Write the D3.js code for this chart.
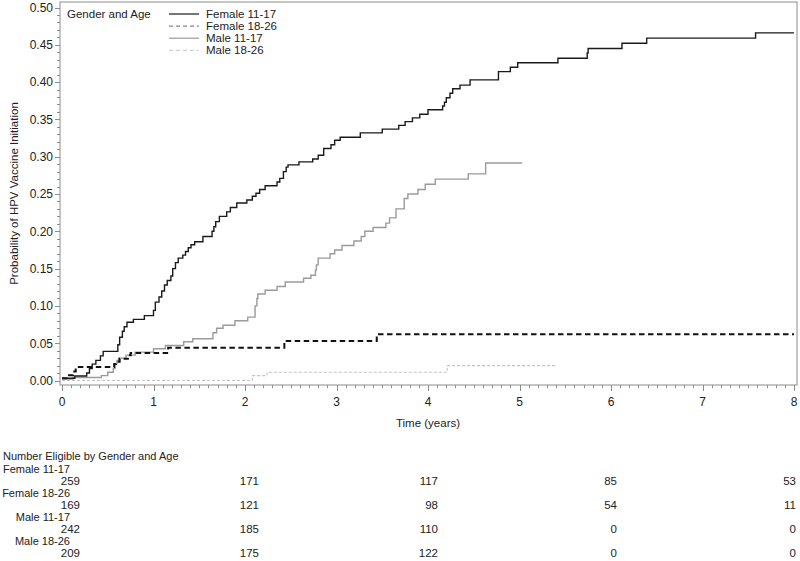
<!DOCTYPE html>
<html><head><meta charset="utf-8">
<script src="https://cdn.jsdelivr.net/npm/d3@7"></script>
<style>
html,body{margin:0;padding:0;background:#fff;}
svg{display:block;font-family:"Liberation Sans",Arial,sans-serif;}
</style></head>
<body>
<svg id="chart" width="800" height="561"></svg>
<script>
// ---- data ----
const groups = ["Female 11-17", "Female 18-26", "Male 11-17", "Male 18-26"];

const femYoungTime = [0,0.14,0.27,0.30,0.33,0.37,0.42,0.45,0.61,0.63,0.66,0.68,0.71,0.78,0.90,1.00,1.02,1.06,1.09,1.12,1.15,1.19,1.21,1.24,1.27,1.32,1.35,1.38,1.41,1.45,1.54,1.64,1.66,1.68,1.72,1.80,1.84,1.91,2.02,2.08,2.12,2.16,2.22,2.35,2.38,2.42,2.45,2.47,2.59,2.74,2.80,2.86,2.94,2.98,3.04,3.26,3.50,3.68,3.75,3.83,3.91,4.00,4.16,4.18,4.20,4.24,4.27,4.35,4.46,4.77,4.90,4.98,5.42,5.74,5.75,6.12,6.39,7.58,8.0];
const femYoungProb = [0.003,0.006,0.010,0.016,0.022,0.027,0.033,0.039,0.048,0.058,0.066,0.072,0.078,0.082,0.087,0.094,0.105,0.112,0.120,0.128,0.134,0.140,0.150,0.158,0.164,0.168,0.173,0.178,0.182,0.186,0.193,0.200,0.206,0.213,0.220,0.226,0.232,0.238,0.242,0.247,0.251,0.256,0.261,0.266,0.271,0.280,0.286,0.289,0.293,0.297,0.302,0.311,0.316,0.322,0.326,0.332,0.337,0.342,0.347,0.352,0.357,0.363,0.368,0.373,0.379,0.385,0.391,0.396,0.403,0.414,0.420,0.426,0.432,0.439,0.445,0.452,0.459,0.466,0.466];

const femOldTime = [0,0.05,0.12,0.15,0.57,0.59,0.63,0.72,0.75,1.16,2.43,3.44,8.0];
const femOldProb = [0.003,0.007,0.012,0.018,0.022,0.025,0.029,0.034,0.037,0.044,0.053,0.062,0.062];

const maleYoungTime = [0,0.12,0.43,0.50,0.56,0.58,0.60,0.62,0.70,0.80,1.00,1.13,1.33,1.43,1.65,1.69,1.76,1.89,2.03,2.11,2.13,2.14,2.22,2.35,2.44,2.64,2.72,2.77,2.78,2.80,2.93,2.98,3.06,3.19,3.27,3.31,3.40,3.54,3.58,3.65,3.74,3.78,3.89,3.97,4.08,4.44,4.63,5.03];
const maleYoungProb = [0.002,0.004,0.0065,0.011,0.016,0.022,0.027,0.030,0.034,0.038,0.0425,0.047,0.052,0.056,0.064,0.070,0.074,0.080,0.085,0.100,0.110,0.116,0.121,0.126,0.132,0.137,0.141,0.148,0.155,0.164,0.170,0.175,0.181,0.187,0.193,0.200,0.205,0.211,0.218,0.230,0.244,0.250,0.256,0.263,0.270,0.277,0.2915,0.2915];

const maleOldTime = [0,2.08,2.24,4.21,5.39];
const maleOldProb = [0,0.0065,0.011,0.020,0.020];

const xTickLabels = [0,1,2,3,4,5,6,7,8];
const yTickLabels = [0,0.05,0.10,0.15,0.20,0.25,0.30,0.35,0.40,0.45,0.50];

const riskTimes = [0,2,4,6,8];
const riskFemYoung = [259,171,117,85,53];
const riskFemOld = [169,121,98,54,11];
const riskMaleYoung = [242,185,110,0,0];
const riskMaleOld = [209,175,122,0,0];

// ---- layout/styles ----
const series = [
  {name: groups[0], t: femYoungTime, p: femYoungProb, color: "#1a1a1a", w: 1.4, dash: null, legColor: "#1a1a1a", legDash: null},
  {name: groups[1], t: femOldTime, p: femOldProb, color: "#111", w: 2, dash: "5.5,3.5", legColor: "#888", legDash: "4,3"},
  {name: groups[2], t: maleYoungTime, p: maleYoungProb, color: "#9a9a9a", w: 1.4, dash: null, legColor: "#9a9a9a", legDash: null},
  {name: groups[3], t: maleOldTime, p: maleOldProb, color: "#c4c4c4", w: 1.1, dash: "3,2", legColor: "#cfcfcf", legDash: "4,3"}
];
const risk = [riskFemYoung, riskFemOld, riskMaleYoung, riskMaleOld];

const svg = d3.select("#chart");
const frame = {left: 60, right: 797, top: 2, bottom: 385};
const x = d3.scaleLinear().domain([0, 8]).range([62, 794]);
const y = d3.scaleLinear().domain([0, 0.5]).range([380.5, 7.5]);
const axisColor = "#8c8c8c";
const textColor = "#222";

// frame
svg.append("rect")
  .attr("x", frame.left).attr("y", frame.top)
  .attr("width", frame.right - frame.left).attr("height", frame.bottom - frame.top)
  .attr("fill", "none").attr("stroke", axisColor).attr("stroke-width", 1);

// y axis ticks
const yMinor = d3.range(0, 0.5001, 0.01);
svg.append("g").selectAll("line").data(yMinor).join("line")
  .attr("x1", frame.left - 3).attr("x2", frame.left)
  .attr("y1", d => Math.round(y(d)) + 0.5).attr("y2", d => Math.round(y(d)) + 0.5)
  .attr("stroke", axisColor);
svg.append("g").selectAll("line").data(yTickLabels).join("line")
  .attr("x1", frame.left - 5).attr("x2", frame.left)
  .attr("y1", d => Math.round(y(d)) + 0.5).attr("y2", d => Math.round(y(d)) + 0.5)
  .attr("stroke", axisColor);
svg.append("g").selectAll("text").data(yTickLabels).join("text")
  .attr("x", frame.left - 7).attr("y", d => y(d))
  .attr("dy", "0.36em").attr("text-anchor", "end")
  .attr("font-size", 12).attr("fill", textColor)
  .text(d => d3.format(".2f")(d));

// x axis ticks
const xMinor = d3.range(0, 8.0001, 0.1);
svg.append("g").selectAll("line").data(xMinor).join("line")
  .attr("x1", d => Math.round(x(d)) + 0.5).attr("x2", d => Math.round(x(d)) + 0.5)
  .attr("y1", frame.bottom).attr("y2", frame.bottom + 3)
  .attr("stroke", axisColor);
svg.append("g").selectAll("line").data(xTickLabels).join("line")
  .attr("x1", d => Math.round(x(d)) + 0.5).attr("x2", d => Math.round(x(d)) + 0.5)
  .attr("y1", frame.bottom).attr("y2", frame.bottom + 6)
  .attr("stroke", axisColor);
svg.append("g").selectAll("text").data(xTickLabels).join("text")
  .attr("x", d => x(d)).attr("y", 406)
  .attr("text-anchor", "middle")
  .attr("font-size", 12).attr("fill", textColor)
  .text(d => d);

// axis titles
svg.append("text").attr("x", (x(0) + x(8)) / 2).attr("y", 427)
  .attr("text-anchor", "middle").attr("font-size", 11.5).attr("fill", textColor)
  .text("Time (years)");
svg.append("text")
  .attr("transform", `translate(18,${(frame.top + frame.bottom) / 2}) rotate(-90)`)
  .attr("text-anchor", "middle").attr("font-size", 11.5).attr("fill", textColor)
  .text("Probability of HPV Vaccine Initiation");

// curves
const line = d3.line().x(d => x(d[0])).y(d => y(d[1])).curve(d3.curveStepAfter);
const curveOrder = [3, 2, 1, 0];
curveOrder.forEach(i => {
  const s = series[i];
  const pts = s.t.map((t, k) => [t, s.p[k]]);
  svg.append("path").datum(pts).attr("d", line)
    .attr("fill", "none").attr("stroke", s.color).attr("stroke-width", s.w)
    .attr("stroke-dasharray", s.dash);
});

// legend
svg.append("text").attr("x", 67).attr("y", 18)
  .attr("font-size", 11.5).attr("fill", textColor).text("Gender and Age");
const leg = svg.append("g").selectAll("g").data(series).join("g")
  .attr("transform", (d, i) => `translate(0,${14 + i * 12.1})`);
leg.append("line").attr("x1", 169).attr("x2", 199).attr("y1", 0).attr("y2", 0)
  .attr("stroke", d => d.legColor).attr("stroke-width", 1.2)
  .attr("stroke-dasharray", d => d.legDash);
leg.append("text").attr("x", 206).attr("y", 0).attr("dy", "0.36em")
  .attr("font-size", 11.5).attr("fill", textColor).text(d => d.name);

// at-risk table
svg.append("text").attr("x", 3).attr("y", 456).attr("dy", "0.36em")
  .attr("font-size", 11).attr("fill", textColor)
  .text("Number Eligible by Gender and Age");
const rowStep = 12;
series.forEach((s, i) => {
  const labelY = 469 + i * 2 * rowStep;
  svg.append("text").attr("x", 70).attr("y", labelY).attr("dy", "0.36em")
    .attr("text-anchor", "end").attr("font-size", 11).attr("fill", textColor)
    .text(s.name);
  svg.append("g").selectAll("text").data(riskTimes).join("text")
    .attr("x", (d) => Math.min(x(d) + 18 - 2 * d, 796))
    .attr("y", labelY + rowStep).attr("dy", "0.36em")
    .attr("text-anchor", "end").attr("font-size", 11.5).attr("fill", textColor)
    .text((d, k) => risk[i][k]);
});
</script>
</body></html>
